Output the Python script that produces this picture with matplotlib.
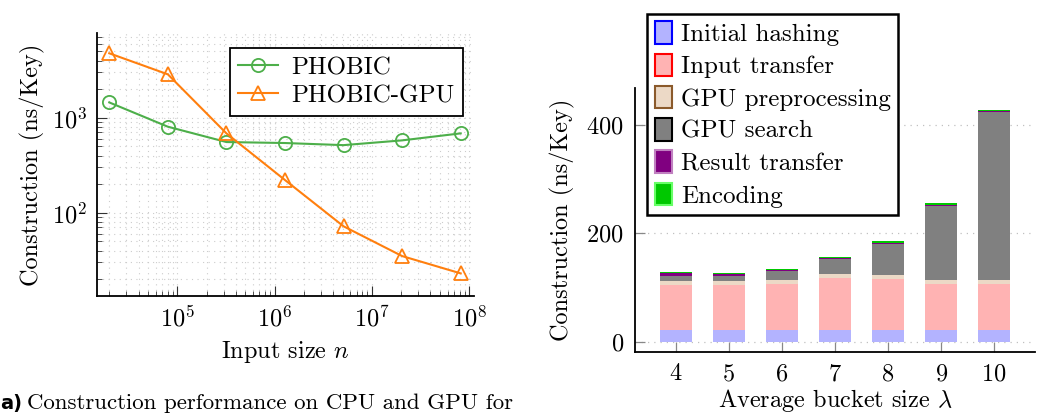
import matplotlib
matplotlib.use("Agg")
import matplotlib.pyplot as plt
from matplotlib.patches import Patch
import numpy as np

# (a) construction time vs input size
input_sizes = [2e4, 8e4, 3.2e5, 1.28e6, 5.12e6, 2.048e7, 8.192e7]
phobic = [1450, 805, 555, 542, 515, 578, 685]
phobic_gpu = [4770, 2865, 685, 221, 72, 35, 23]

# (b) breakdown per bucket size
bucket_sizes = [4, 5, 6, 7, 8, 9, 10]
initial_hashing = [21, 21, 21, 22, 21, 21, 21]
input_transfer = [84, 84, 86, 96, 95, 86, 86]
gpu_preprocessing = [7.5, 7.5, 7, 7, 7, 7, 7]
gpu_search = [9, 8.5, 17, 27, 58, 137, 310]
result_transfer = [4.5, 4.5, 1.5, 2, 1.5, 1.5, 2]
encoding = [2, 2, 2, 1.5, 2.5, 2.5, 1]

plt.rcParams['font.family'] = ['cmr10', 'DejaVu Serif']
plt.rcParams['mathtext.fontset'] = 'cm'
plt.rcParams['axes.formatter.use_mathtext'] = True
plt.rcParams['font.size'] = 17.5

W, H = 1048, 415
fig = plt.figure(figsize=(W / 100, H / 100), dpi=100)

def fx(px):
    return px / W

def fy(px):
    return 1 - px / H

# ---------------- left plot ----------------
ax1 = fig.add_axes([fx(97), fy(296), fx(474) - fx(97), fy(33) - fy(296)])
ax1.plot(input_sizes, phobic, color='#4daf4a', marker='o', markersize=9.5,
         markerfacecolor='none', markeredgewidth=1.3, linewidth=1.5, label='PHOBIC')
ax1.plot(input_sizes, phobic_gpu, color='#ff7f0e', marker='^', markersize=9.5,
         markerfacecolor='none', markeredgewidth=1.3, linewidth=1.5, label='PHOBIC-GPU')
ax1.set_xscale('log')
ax1.set_yscale('log')
ax1.set_xlim(10 ** 4.175, 10 ** 8.05)
ax1.set_ylim(13.3, 7800)
ax1.grid(True, which='both', linestyle=(0, (1, 4)), color='#cccccc', linewidth=0.8)
ax1.set_axisbelow(True)
for s in ['top', 'right']:
    ax1.spines[s].set_visible(False)
for s in ['left', 'bottom']:
    ax1.spines[s].set_linewidth(1.3)
ax1.tick_params(which='major', direction='in', length=7, width=0.8, color='#333333', pad=7)
ax1.tick_params(which='minor', direction='in', length=3.5, width=0.6, color='#333333')
ax1.set_xticks([1e5, 1e6, 1e7, 1e8])
ax1.set_yticks([1e2, 1e3])
ax1.set_xlabel('Input size $n$', labelpad=5)
ax1.set_ylabel('Construction (ns/Key)', labelpad=5)
leg1 = ax1.legend(loc='upper right', bbox_to_anchor=(fx(463), fy(48)),
                  bbox_transform=fig.transFigure, fancybox=False, edgecolor='black',
                  framealpha=1, handlelength=1.6, labelspacing=0.22, borderpad=0.35,
                  handletextpad=0.5, borderaxespad=0, fontsize=18)
leg1.get_frame().set_linewidth(1.3)

fig.text(fx(0), fy(403), 'a)', fontfamily='DejaVu Sans', fontweight='bold',
         fontsize=14, va='center', ha='left')
fig.text(fx(27), fy(403), 'Construction performance on CPU and GPU for',
         va='center', ha='left', fontsize=16.5)

# ---------------- right plot ----------------
ax2 = fig.add_axes([fx(635), fy(352), fx(1035) - fx(635), fy(88) - fy(352)])
segments = [
    (initial_hashing, '#b3b3ff', 'blue', 'Initial hashing'),
    (input_transfer, '#ffb3b3', 'red', 'Input transfer'),
    (gpu_preprocessing, '#ecd9c6', '#8b5a2b', 'GPU preprocessing'),
    (gpu_search, '#808080', 'black', 'GPU search'),
    (result_transfer, '#800080', '#c080c0', 'Result transfer'),
    (encoding, '#00c800', '#66ff66', 'Encoding'),
]
bottom = np.zeros(len(bucket_sizes))
handles = []
for vals, fc, ec, lab in segments:
    ax2.bar(bucket_sizes, vals, bottom=bottom, width=0.6, color=fc,
            edgecolor='none', zorder=2)
    bottom += np.array(vals)
    handles.append(Patch(facecolor=fc, edgecolor=ec, linewidth=1.5, label=lab))

ax2.set_xlim(3.23, 10.77)
ax2.set_ylim(-19, 468)
ax2.set_xticks(bucket_sizes)
ax2.set_yticks([0, 200, 400])
ax2.yaxis.grid(True, linestyle=(0, (1, 4)), color='#c0c0c0', linewidth=0.9)
ax2.set_axisbelow(True)
for s in ['top', 'right']:
    ax2.spines[s].set_visible(False)
for s in ['left', 'bottom']:
    ax2.spines[s].set_linewidth(1.3)
ax2.tick_params(direction='in', length=7, width=0.9, color='#888888', pad=8)
ax2.set_xlabel(r'Average bucket size $\lambda$', labelpad=1)
ax2.set_ylabel('Construction (ns/Key)', labelpad=8)
leg2 = fig.legend(handles=handles, loc='upper left',
                  bbox_to_anchor=(fx(647), fy(14)), bbox_transform=fig.transFigure,
                  fancybox=False, edgecolor='black', framealpha=1,
                  handlelength=0.7, handleheight=1.0, labelspacing=0.3,
                  borderpad=0.3, handletextpad=0.35, borderaxespad=0, fontsize=18)
leg2.get_frame().set_linewidth(1.8)

fig.savefig('out.png', dpi=100)
